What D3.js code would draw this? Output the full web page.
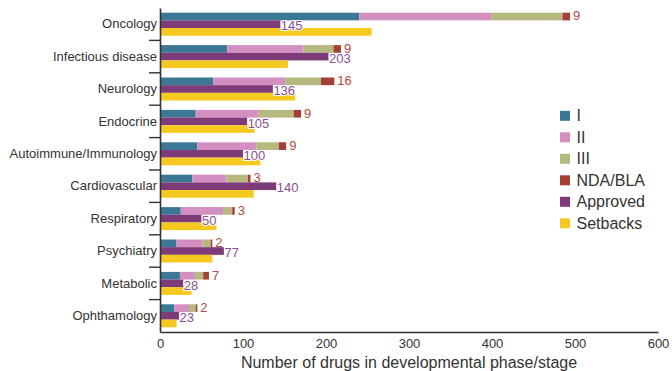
<!DOCTYPE html>
<html>
<head>
<meta charset="utf-8">
<script src="https://cdn.jsdelivr.net/npm/d3@7"></script>
<style>
  html, body { margin: 0; padding: 0; background: #fff; }
  svg { display: block; font-family: "Liberation Sans", Arial, Helvetica, sans-serif; }
</style>
</head>
<body>
<svg id="chart" width="672" height="371"></svg>
<script>
// Therapeutic areas, top to bottom
const categories = ["Oncology", "Infectious disease", "Neurology", "Endocrine",
  "Autoimmune/Immunology", "Cardiovascular", "Respiratory", "Psychiatry",
  "Metabolic", "Ophthamology"];

// Pipeline drugs per developmental phase (stacked)
const phaseI   = [240, 81, 64, 43, 45, 39, 25, 20, 24, 17];
const phaseII  = [159, 92, 87, 76, 71, 41, 51, 31, 18, 18];
const phaseIII = [86, 36, 43, 42, 27, 26, 11, 10, 10, 8];
const ndaBla   = [9, 9, 16, 9, 9, 3, 3, 2, 7, 2];

// Approved drugs and setbacks
const approved = [145, 203, 136, 105, 100, 140, 50, 77, 28, 23];
const setbacks = [255, 154, 163, 114, 121, 113, 68, 63, 38, 20];

const xTicks = [0, 100, 200, 300, 400, 500, 600];
const legendLabels = ["I", "II", "III", "NDA/BLA", "Approved", "Setbacks"];
const colors = ["#3a7896", "#d38fc0", "#b5b87f", "#a33f35", "#7e3b7a", "#f6c920"];

const svg = d3.select("#chart");

const x = d3.scaleLinear().domain([0, 600]).range([160, 658]);
const y = d3.scaleBand().domain(categories).range([8, 332])
  .paddingInner(0.29).paddingOuter(0.145);
const row = d3.scaleBand().domain(["pipeline", "approved", "setbacks"])
  .range([0, y.bandwidth()]);

// stacked pipeline bars
const phaseKeys = ["I", "II", "III", "NDA/BLA"];
const rows = categories.map((c, i) => ({
  category: c, "I": phaseI[i], "II": phaseII[i], "III": phaseIII[i], "NDA/BLA": ndaBla[i]
}));
const stacked = d3.stack().keys(phaseKeys)(rows);

const pipeline = svg.append("g");
stacked.forEach((layer, k) => {
  pipeline.selectAll(null).data(layer).enter().append("rect")
    .attr("x", d => x(d[0]))
    .attr("y", d => y(d.data.category) + row("pipeline"))
    .attr("width", d => x(d[1]) - x(d[0]))
    .attr("height", row.bandwidth())
    .attr("fill", colors[k]);
});

// approved bars
svg.append("g").selectAll("rect").data(categories).enter().append("rect")
  .attr("x", x(0))
  .attr("y", c => y(c) + row("approved"))
  .attr("width", (c, i) => x(approved[i]) - x(0))
  .attr("height", row.bandwidth())
  .attr("fill", colors[4]);

// setbacks bars
svg.append("g").selectAll("rect").data(categories).enter().append("rect")
  .attr("x", x(0))
  .attr("y", c => y(c) + row("setbacks"))
  .attr("width", (c, i) => x(setbacks[i]) - x(0))
  .attr("height", row.bandwidth())
  .attr("fill", colors[5]);

// NDA/BLA value labels at the end of each stack
const lastLayer = stacked[stacked.length - 1];
svg.append("g").selectAll("text").data(lastLayer).enter().append("text")
  .attr("x", d => x(d[1]) + 3)
  .attr("y", d => y(d.data.category) + row("pipeline") + row.bandwidth() / 2)
  .attr("dy", "0.3em")
  .attr("font-size", 13)
  .attr("fill", "#b64a3e")
  .text((d, i) => ndaBla[i]);

// approved value labels with a white halo
svg.append("g").selectAll("text").data(categories).enter().append("text")
  .attr("x", (c, i) => x(approved[i]) + 0.5)
  .attr("y", c => y(c) + row("approved") + row.bandwidth() / 2)
  .attr("dy", "0.48em")
  .attr("font-size", 13)
  .attr("fill", "#8b4e93")
  .attr("stroke", "#fff")
  .attr("stroke-width", 2)
  .attr("paint-order", "stroke")
  .text((c, i) => approved[i]);

// x axis
const xAxis = svg.append("g")
  .attr("transform", `translate(0,${y.range()[1]})`)
  .call(d3.axisBottom(x).tickValues(xTicks).tickSize(0).tickPadding(7));
xAxis.select(".domain").attr("stroke", "#333").attr("stroke-width", 1.6);
xAxis.selectAll("text").attr("font-size", 13).attr("fill", "#333")
  .attr("font-family", "Liberation Sans, Arial, sans-serif");

// y axis with category labels
const yAxis = svg.append("g")
  .attr("transform", `translate(${x(0)},0)`)
  .call(d3.axisLeft(y).tickSize(0).tickPadding(3).tickSizeOuter(0));
yAxis.select(".domain").attr("stroke", "#333").attr("stroke-width", 1.6);
yAxis.selectAll("text").attr("font-size", 13).attr("fill", "#333")
  .attr("font-family", "Liberation Sans, Arial, sans-serif");

// separator ticks between categories
const gap = y.step() * y.paddingInner() / 2;
svg.append("g").selectAll("line").data(categories.slice(1)).enter().append("line")
  .attr("x1", x(0) - 11).attr("x2", x(0))
  .attr("y1", c => y(c) - gap).attr("y2", c => y(c) - gap)
  .attr("stroke", "#333").attr("stroke-width", 1.4);

// x axis title
svg.append("text")
  .attr("x", (x.range()[0] + x.range()[1]) / 2)
  .attr("y", 368)
  .attr("text-anchor", "middle")
  .attr("font-size", 16)
  .attr("fill", "#333")
  .text("Number of drugs in developmental phase/stage");

// legend
const legend = svg.append("g").attr("transform", "translate(560,110.8)");
const item = legend.selectAll("g").data(legendLabels).enter().append("g")
  .attr("transform", (d, i) => `translate(0,${i * 21.5})`);
item.append("rect").attr("width", 10).attr("height", 10)
  .attr("fill", (d, i) => colors[i]);
item.append("text").attr("x", 16.5).attr("y", 10.6)
  .attr("font-size", 16).attr("fill", "#333")
  .text(d => d);
</script>
</body>
</html>
